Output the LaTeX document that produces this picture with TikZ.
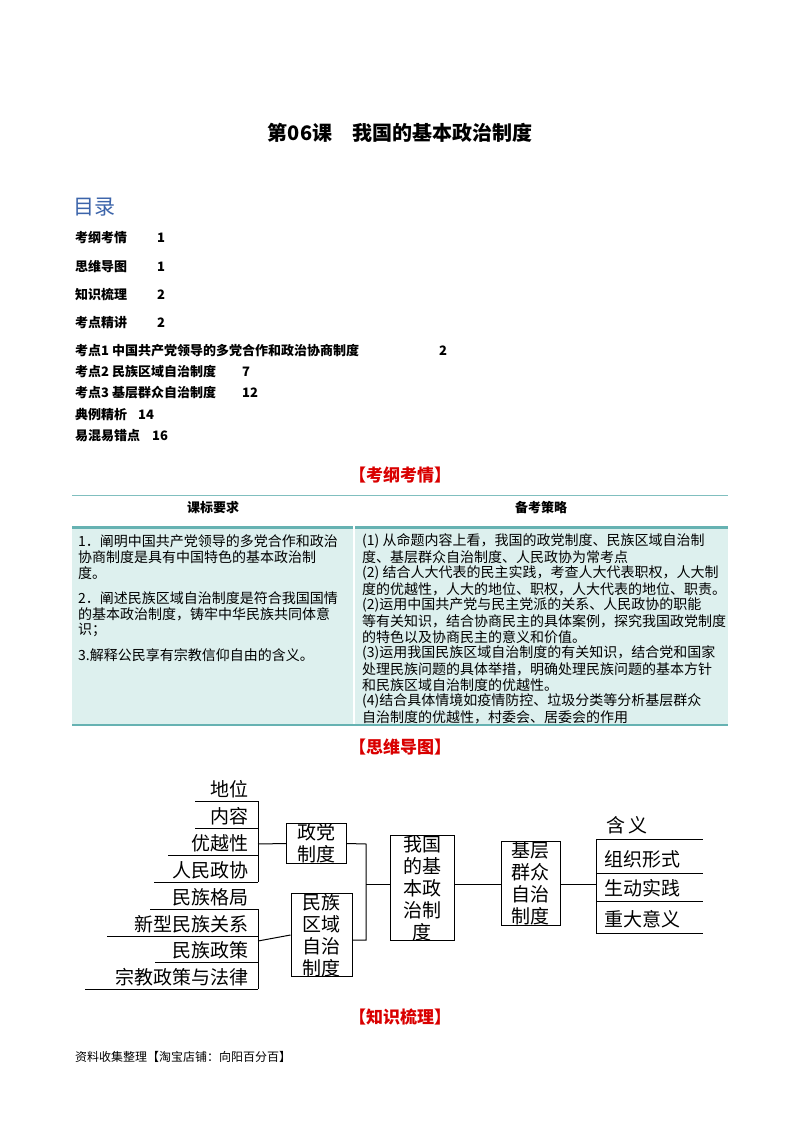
\documentclass[tikz,border=0pt]{standalone}
\usepackage{fontspec}
\setmainfont{Noto Sans CJK SC}
\definecolor{tbfill}{RGB}{221,240,238}
\definecolor{tocblue}{RGB}{60,100,170}
\begin{document}
\begin{tikzpicture}[x=1pt,y=-1pt,
  toc/.style={anchor=west,font=\fontsize{13}{15}\selectfont\bfseries,inner sep=0},
  cell/.style={anchor=west,font=\fontsize{14}{16}\selectfont,inner sep=0},
  red/.style={font=\fontsize{17}{20}\selectfont\bfseries,text=red!85!black},
  mm/.style={font=\fontsize{19}{22}\selectfont,inner sep=0},
  box/.style={draw,line width=1pt,align=center,font=\fontsize{19}{22}\selectfont,inner sep=0,minimum width=0},
  ln/.style={line width=1pt}]
\useasboundingbox (0,0) rectangle (800,1132);
\node[font=\fontsize{20}{24}\selectfont\bfseries] (title) at (400,133) {第06课\quad 我国的基本政治制度};
\node[anchor=west,font=\fontsize{21}{24}\selectfont,text=tocblue,inner sep=0] (ml) at (73,207) {目录};
\node[toc] (t1) at (75,238) {考纲考情};\node[toc] (n1) at (157,238) {1};
\node[toc] (t2) at (75,267) {思维导图};\node[toc] (n2) at (157,267) {1};
\node[toc] (t3) at (75,295) {知识梳理};\node[toc] (n3) at (157,295) {2};
\node[toc] (t4) at (75,323) {考点精讲};\node[toc] (n4) at (157,323) {2};
\node[toc] (t5) at (75,351) {考点1\ 中国共产党领导的多党合作和政治协商制度};\node[toc] (n5) at (439,351) {2};
\node[toc] (t6) at (75,372) {考点2\ 民族区域自治制度};\node[toc] (n6) at (242,372) {7};
\node[toc] (t7) at (75,393) {考点3\ 基层群众自治制度};\node[toc] (n7) at (242,393) {12};
\node[toc] (t8) at (75,415) {典例精析};\node[toc] (n8) at (138,415) {14};
\node[toc] (t9) at (75,436) {易混易错点};\node[toc] (n9) at (152,436) {16};
\node[red] (h1) at (400,475) {【考纲考情】};
% table
\fill[tbfill] (72,527) rectangle (728,725);
\draw[teal!50,line width=1pt] (72,495) -- (728,495);
\draw[teal!60,line width=3pt] (72,527) -- (728,527);
\draw[teal!60,line width=2pt] (72,725) -- (728,725);
\draw[white,line width=1.5pt] (354,496) -- (354,724);
\node[font=\fontsize{13}{15}\selectfont\bfseries] (c1) at (213,508) {课标要求};
\node[font=\fontsize{13}{15}\selectfont\bfseries] (c2) at (541,508) {备考策略};
\foreach \t [count=\i] in {1．阐明中国共产党领导的多党合作和政治,协商制度是具有中国特色的基本政治制,度。}
  \node[cell] (l\i) at (78,525+16*\i) {\t};
\foreach \t [count=\i] in {2．阐述民族区域自治制度是符合我国国情,的基本政治制度，铸牢中华民族共同体意,识；}
  \node[cell] (m\i) at (78,582+16*\i) {\t};
\node[cell] (k1) at (78,655) {3.解释公民享有宗教信仰自由的含义。};
\foreach \t [count=\i] in {(1)\ 从命题内容上看，我国的政党制度、民族区域自治制,度、基层群众自治制度、人民政协为常考点,(2)\ 结合人大代表的民主实践，考查人大代表职权，人大制,度的优越性，人大的地位、职权，人大代表的地位、职责。,(2)运用中国共产党与民主党派的关系、人民政协的职能,等有关知识，结合协商民主的具体案例，探究我国政党制度,的特色以及协商民主的意义和价值。,(3)运用我国民族区域自治制度的有关知识，结合党和国家,处理民族问题的具体举措，明确处理民族问题的基本方针,和民族区域自治制度的优越性。,(4)结合具体情境如疫情防控、垃圾分类等分析基层群众,自治制度的优越性，村委会、居委会的作用}
  \node[cell] (r\i) at (362,525+16*\i) {\t};
\node[red] (h2) at (400,747) {【思维导图】};
% mind map
\node[box,minimum width=60pt,minimum height=39pt] (zd) at (316.5,843.5) {政党\\制度};
\node[box,minimum width=61pt,minimum height=74pt] (mz) at (321.5,935) {民族\\区域\\自治\\制度};
\node[box,minimum width=64pt,minimum height=94pt] (wg) at (422,888) {我国\\的基\\本政\\治制\\度};
\node[box,minimum width=59pt,minimum height=79pt] (jc) at (530.5,883.5) {基层\\群众\\自治\\制度};
\coordinate (la) at (258,801);\coordinate (lb) at (258,882);
\coordinate (lc) at (258,909);\coordinate (ld) at (258,989);
\draw[ln] (la) -- (lb); \draw[ln] (lc) -- (ld);
\foreach \y/\xs/\t [count=\i] in {801/195/地位,828/195/内容,855/168/优越性,882/154/人民政协}{
  \draw[ln] (\xs,\y) -- (258,\y);
  \node[mm,anchor=base east] (a\i) at (249,\y-5) {\t};}
\foreach \y/\xs/\t [count=\i] in {909/150/民族格局,936/107/新型民族关系,962/155/民族政策,989/85/宗教政策与法律}{
  \draw[ln] (\xs,\y) -- (258,\y);
  \node[mm,anchor=base east] (b\i) at (249,\y-5) {\t};}
\draw[ln] (258,844) -- (zd.west);
\draw[ln] (258,941) -- (mz.west);
\coordinate (j1) at (366,844);\coordinate (j2) at (366,940);
\draw[ln] (zd.east) -- (j1) -- (j2) -- (mz.east |- j2);
\draw[ln] (366,884) -- (wg.west |- 0,884);
\draw[ln] (wg.east |- 0,884) -- (jc.west |- 0,884);
\coordinate (ra) at (596,839);\coordinate (rb) at (596,933);
\draw[ln] (ra) -- (rb);
\draw[ln] (jc.east |- 0,884) -- (596,884);
\foreach \y in {839,873,901,933} \draw[ln] (596,\y) -- (703,\y);
\node[mm,anchor=base west] (s1) at (606,832) {含\,义};
\node[mm,anchor=base west] (s2) at (604,866) {组织形式};
\node[mm,anchor=base west] (s3) at (604,895) {生动实践};
\node[mm,anchor=base west] (s4) at (604,926) {重大意义};
\node[red] (h3) at (400,1017) {【知识梳理】};
\node[anchor=west,inner sep=0,font=\fontsize{12}{14}\selectfont] (ft) at (75,1057) {资料收集整理【淘宝店铺：向阳百分百】};
\end{tikzpicture}
\end{document}
